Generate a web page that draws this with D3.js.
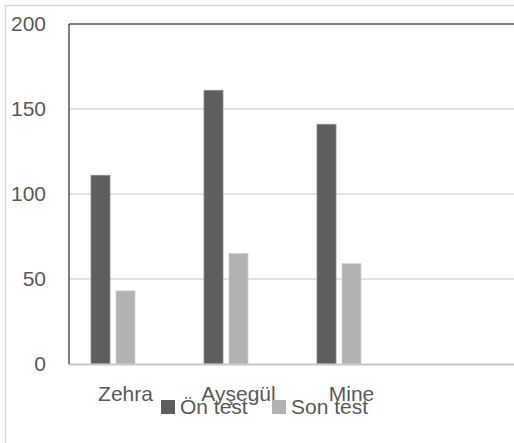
<!DOCTYPE html>
<html>
<head>
<meta charset="utf-8">
<script src="https://cdn.jsdelivr.net/npm/d3@7"></script>
<style>
  html, body { margin: 0; padding: 0; background: #fff; }
  svg { display: block; }
  text { font-family: "Liberation Sans", Arial, sans-serif; fill: #595959; }
</style>
</head>
<body>
<svg id="chart" width="514" height="443"></svg>
<script>
// Students and their test scores
const categories = ["Zehra", "Ayşegül", "Mine", ""];
const onTest = [111, 161, 141, null];
const sonTest = [43, 65, 59, null];
const seriesNames = ["Ön test", "Son test"];
const seriesColors = ["#5e5e5e", "#b2b2b2"];
const yTicks = [0, 50, 100, 150, 200];

const svg = d3.select("#chart");
const W = 514, H = 443;
const FS = 21;

// chart frame
svg.append("rect")
  .attr("x", 5.5).attr("y", 5.5)
  .attr("width", W).attr("height", H)
  .attr("fill", "#fff").attr("stroke", "#d9d9d9").attr("stroke-width", 1.5);

const plot = { left: 69, top: 24, bottom: 364, right: 521 };

const x0 = d3.scaleBand().domain(categories).range([plot.left, plot.right]).padding(0);
// three slots per category; the third slot stays empty
const x1 = d3.scaleBand().domain([0, 1, 2])
  .range([22, x0.bandwidth() - 22]).paddingInner(0.24).paddingOuter(0);
const y = d3.scaleLinear().domain([0, 200]).range([plot.bottom, plot.top]);

// horizontal gridlines
svg.append("g")
  .selectAll("line")
  .data(yTicks.filter(t => t > 0 && t < 200))
  .join("line")
  .attr("x1", plot.left).attr("x2", W)
  .attr("y1", d => y(d)).attr("y2", d => y(d))
  .attr("stroke", "#d9d9d9").attr("stroke-width", 1.5);

// y axis labels
const yAxis = d3.axisLeft(y).tickValues(yTicks).tickSize(0).tickPadding(0);
const gy = svg.append("g").attr("transform", "translate(46,0)").call(yAxis);
gy.select(".domain").remove();
gy.selectAll("text")
  .attr("font-size", FS)
  .attr("fill", "#595959")
  .attr("font-family", "Liberation Sans, Arial, sans-serif");

// bars
const series = [onTest, sonTest];
series.forEach((vals, si) => {
  svg.append("g")
    .selectAll("rect")
    .data(categories.map((c, i) => ({ c, v: vals[i] })).filter(d => d.v != null))
    .join("rect")
    .attr("x", d => x0(d.c) + x1(si))
    .attr("width", x1.bandwidth())
    .attr("y", d => y(d.v))
    .attr("height", d => y(0) - y(d.v))
    .attr("fill", seriesColors[si])
    .attr("stroke", si === 0 ? "#8a8a8a" : "#cfcfcf")
    .attr("stroke-width", 0.8);
});

// baseline
svg.append("line")
  .attr("x1", plot.left).attr("x2", W)
  .attr("y1", y(0) + 0.5).attr("y2", y(0) + 0.5)
  .attr("stroke", "#c8c8c8").attr("stroke-width", 2);

// top line
svg.append("line")
  .attr("x1", plot.left).attr("x2", W)
  .attr("y1", y(200)).attr("y2", y(200))
  .attr("stroke", "#595959").attr("stroke-width", 1.5);

// left axis line
svg.append("line")
  .attr("x1", plot.left).attr("x2", plot.left)
  .attr("y1", y(200)).attr("y2", y(0))
  .attr("stroke", "#000").attr("stroke-width", 1);

// category labels
const xAxis = d3.axisBottom(x0).tickSize(0).tickPadding(0);
const gx = svg.append("g").attr("transform", "translate(0,386)").call(xAxis);
gx.select(".domain").remove();
gx.selectAll("text")
  .attr("font-size", FS)
  .attr("fill", "#595959")
  .attr("font-family", "Liberation Sans, Arial, sans-serif");

// legend
const legendX = [161, 272];
const legend = svg.append("g");
seriesNames.forEach((name, i) => {
  legend.append("rect")
    .attr("x", legendX[i]).attr("y", 400)
    .attr("width", 14).attr("height", 14)
    .attr("fill", seriesColors[i]);
  legend.append("text")
    .attr("x", legendX[i] + 19).attr("y", 414)
    .attr("font-size", FS)
    .text(name);
});
</script>
</body>
</html>
